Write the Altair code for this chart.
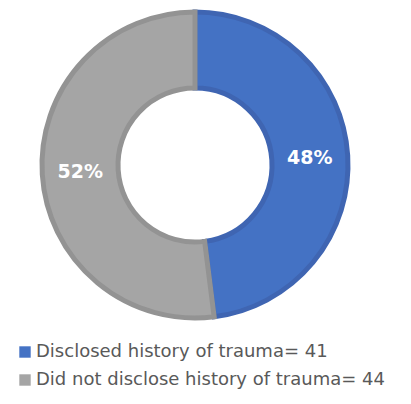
import altair as alt
import pandas as pd

categories = ["Disclosed history of trauma= 41", "Did not disclose history of trauma= 44"]
values = [48, 52]
labels = ["48%", "52%"]
fills = ["#4472C4", "#A5A5A5"]
strokes = ["#3F65B2", "#939393"]

df = pd.DataFrame({"cat": categories, "value": values, "label": labels,
                   "order": [0, 1]})

cx, cy = 187, 157

base = alt.Chart(df).encode(
    theta=alt.Theta("value:Q", stack=True),
    order=alt.Order("order:Q"),
)

arc = base.mark_arc(outerRadius=153, innerRadius=77, strokeWidth=5).encode(
    x=alt.value(cx), y=alt.value(cy),
    color=alt.Color("cat:N", sort=categories,
                    scale=alt.Scale(domain=categories, range=fills),
                    legend=alt.Legend(title=None, orient="none", legendX=8, legendY=335,
                                      symbolType="square", symbolSize=130,
                                      symbolStrokeWidth=0,
                                      labelFontSize=18, labelFont="DejaVu Sans",
                                      labelColor="#595959", labelLimit=400,
                                      rowPadding=10, symbolOffset=0, labelOffset=2)),
    stroke=alt.Stroke("cat:N", scale=alt.Scale(domain=categories, range=strokes), legend=None),
)

text = base.mark_text(radius=115, font="DejaVu Sans", fontSize=19, fontWeight="bold",
                      color="white").encode(
    x=alt.value(cx), y=alt.value(cy),
    text="label:N",
)

chart = (arc + text).properties(
    width=395, height=388,
    autosize=alt.AutoSizeParams(type="none"),
    padding=0,
).configure_view(stroke=None)

chart.save("out.html", embed_options={"renderer": "svg", "actions": False})
